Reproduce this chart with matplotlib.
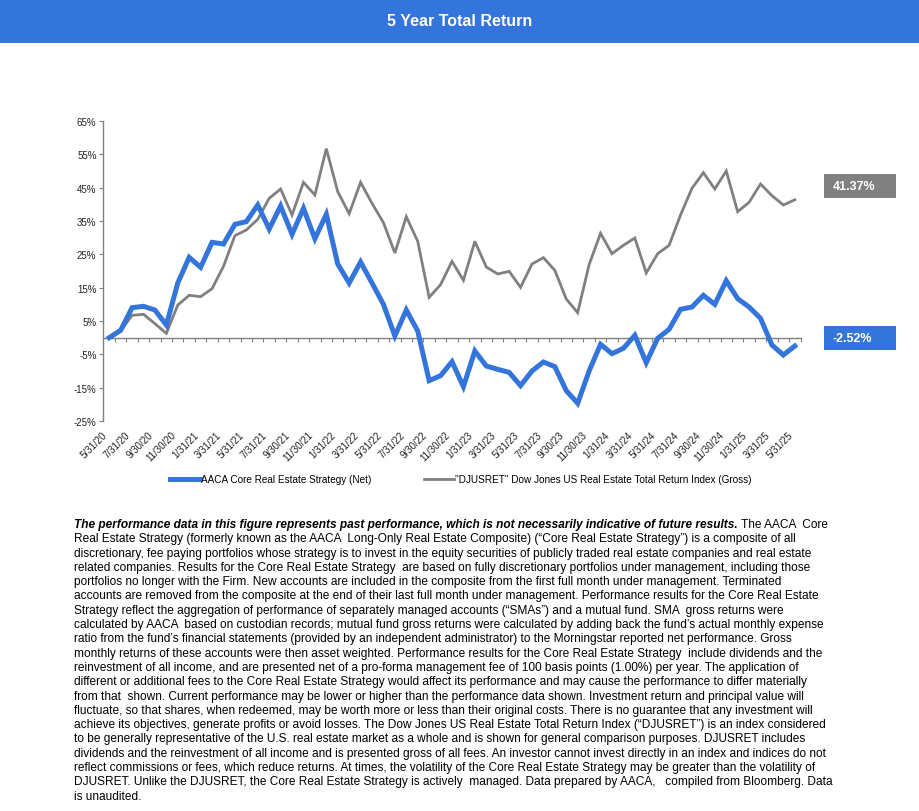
import matplotlib
matplotlib.use("Agg")
import matplotlib.pyplot as plt
import numpy as np
from matplotlib.patches import Rectangle
from matplotlib.lines import Line2D

plt.rcParams['font.family'] = ['Liberation Sans', 'DejaVu Sans']

# ---------------- data ----------------
strategy = [0.0, 2.2, 9.0, 9.4, 8.3, 3.8, 16.4, 24.1, 21.1, 28.6, 28.1, 34.0, 34.8,
            39.8, 32.6, 39.5, 31.0, 38.8, 29.7, 37.0, 22.1, 16.4, 22.7, 16.4, 10.0,
            0.5, 8.3, 2.0, -12.9, -11.4, -7.2, -14.7, -4.0, -8.5, -9.5, -10.4, -14.4,
            -10.0, -7.3, -8.7, -15.9, -19.7, -10.0, -2.0, -4.8, -3.2, 0.7, -7.5, -0.2,
            2.5, 8.5, 9.2, 12.7, 10.0, 17.1, 11.7, 9.2, 5.8, -2.2, -5.2, -2.52]
index = [0.0, 2.0, 6.7, 7.0, 4.2, 1.3, 9.8, 12.7, 12.3, 14.7, 21.4, 30.6, 32.3,
         35.5, 41.8, 44.6, 36.8, 46.6, 42.8, 56.7, 43.8, 37.2, 46.6, 40.3, 34.5,
         25.4, 36.3, 28.9, 12.1, 15.9, 22.9, 17.2, 28.9, 21.2, 19.1, 19.9, 15.1,
         22.1, 24.0, 20.2, 11.6, 7.5, 21.9, 31.3, 25.2, 27.7, 29.9, 19.4, 25.2,
         27.7, 36.8, 44.8, 49.5, 44.6, 50.0, 37.8, 40.6, 46.1, 42.6, 39.8, 41.37]
tick_labels = ["5/31/20", "7/31/20", "9/30/20", "11/30/20", "1/31/21", "3/31/21",
               "5/31/21", "7/31/21", "9/30/21", "11/30/21", "1/31/22", "3/31/22",
               "5/31/22", "7/31/22", "9/30/22", "11/30/22", "1/31/23", "3/31/23",
               "5/31/23", "7/31/23", "9/30/23", "11/30/23", "1/31/24", "3/31/24",
               "5/31/24", "7/31/24", "9/30/24", "11/30/24", "1/31/25", "3/31/25",
               "5/31/25"]
y_ticks = [-25, -15, -5, 5, 15, 25, 35, 45, 55, 65]
series_names = ["AACA Core Real Estate Strategy (Net)",
                "\"DJUSRET\" Dow Jones US Real Estate Total Return Index (Gross)"]
final_labels = ["-2.52%", "41.37%"]

BLUE = "#3375DB"
GRAY = "#808080"

W, H = 920, 812
fig = plt.figure(figsize=(W / 100, H / 100), dpi=100)

# title band
fig.patches.append(Rectangle((0, 1 - 44 / H), 1, 44 / H, transform=fig.transFigure,
                             facecolor=BLUE, edgecolor="none", zorder=0))
fig.text(0.5, 1 - 22 / H, "5 Year Total Return", color="white", fontsize=11.5,
         fontweight="bold", ha="center", va="center")

# axes
ax = fig.add_axes([103.5 / W, (H - 422) / H, (800.5 - 103.5) / W, 300 / H])
x = np.arange(len(strategy))
ax.plot(x, index, color=GRAY, lw=2.0, zorder=3, solid_joinstyle="miter")
ax.plot(x, strategy, color=BLUE, lw=3.6, zorder=4, solid_joinstyle="miter")
ax.set_xlim(-0.5, len(strategy) - 0.5)
ax.set_ylim(-25, 65)
ax.set_yticks(y_ticks)
ax.set_yticklabels([f"{v}%" for v in y_ticks])
ax.set_xticks(np.arange(0, len(strategy), 2))
ax.set_xticklabels(tick_labels, rotation=45, ha="right")
ax.tick_params(axis="x", length=0, pad=6, labelsize=7.0, colors="#222222")
ax.tick_params(axis="y", length=3, width=0.8, color=GRAY, pad=2, labelsize=7.0,
               labelcolor="#222222")
for s in ["top", "right", "bottom"]:
    ax.spines[s].set_visible(False)
ax.spines["left"].set_color(GRAY)
ax.spines["left"].set_linewidth(1.0)

# zero line with monthly tick marks
sec = ax.secondary_xaxis(25 / 90)
sec.set_xticks(np.arange(-0.5, len(strategy), 1))
sec.tick_params(axis="x", direction="out", length=3, width=0.8, color=GRAY,
                labelbottom=False, labeltop=False, bottom=True, top=False)
sec.spines["bottom"].set_color(GRAY)
sec.spines["bottom"].set_linewidth(1.0)
for s in ["top", "left", "right"]:
    if s in sec.spines:
        sec.spines[s].set_visible(False)

# legend
handles = [Line2D([], [], color=BLUE, lw=3.6), Line2D([], [], color=GRAY, lw=2.0)]
fig.legend(handles, series_names, loc="center left",
           bbox_to_anchor=(170 / W, 1 - 480 / H), ncol=2, frameon=False,
           fontsize=7.2, handlelength=3.0, handletextpad=0.1, columnspacing=5.3,
           borderpad=0, borderaxespad=0)

# end-value labels
fig.canvas.draw()
for vals, color, lab, dy in [(strategy, BLUE, final_labels[0], 8),
                             (index, GRAY, final_labels[1], 14)]:
    px = ax.transData.transform((len(vals) - 1, vals[-1]))
    cy = px[1] + dy
    fig.patches.append(Rectangle((824 / W, (cy - 12) / H), 72 / W, 24 / H,
                                 transform=fig.transFigure, facecolor=color,
                                 edgecolor="none"))
    fig.text(833 / W, cy / H, lab, color="white", fontsize=9, fontweight="bold",
             ha="left", va="center")

# disclaimer
bold_part = ("The performance data in this figure represents past performance, "
             "which is not necessarily indicative of future results.")
lines = [
    " The AACA  Core",
    "Real Estate Strategy (formerly known as the AACA  Long-Only Real Estate Composite) (\u201cCore Real Estate Strategy\u201d) is a composite of all",
    "discretionary, fee paying portfolios whose strategy is to invest in the equity securities of publicly traded real estate companies and real estate",
    "related companies. Results for the Core Real Estate Strategy  are based on fully discretionary portfolios under management, including those",
    "portfolios no longer with the Firm. New accounts are included in the composite from the first full month under management. Terminated",
    "accounts are removed from the composite at the end of their last full month under management. Performance results for the Core Real Estate",
    "Strategy reflect the aggregation of performance of separately managed accounts (\u201cSMAs\u201d) and a mutual fund. SMA  gross returns were",
    "calculated by AACA  based on custodian records; mutual fund gross returns were calculated by adding back the fund\u2019s actual monthly expense",
    "ratio from the fund\u2019s financial statements (provided by an independent administrator) to the Morningstar reported net performance. Gross",
    "monthly returns of these accounts were then asset weighted. Performance results for the Core Real Estate Strategy  include dividends and the",
    "reinvestment of all income, and are presented net of a pro-forma management fee of 100 basis points (1.00%) per year. The application of",
    "different or additional fees to the Core Real Estate Strategy would affect its performance and may cause the performance to differ materially",
    "from that  shown. Current performance may be lower or higher than the performance data shown. Investment return and principal value will",
    "fluctuate, so that shares, when redeemed, may be worth more or less than their original costs. There is no guarantee that any investment will",
    "achieve its objectives, generate profits or avoid losses. The Dow Jones US Real Estate Total Return Index (\u201cDJUSRET\u201d) is an index considered",
    "to be generally representative of the U.S. real estate market as a whole and is shown for general comparison purposes. DJUSRET includes",
    "dividends and the reinvestment of all income and is presented gross of all fees. An investor cannot invest directly in an index and indices do not",
    "reflect commissions or fees, which reduce returns. At times, the volatility of the Core Real Estate Strategy may be greater than the volatility of",
    "DJUSRET. Unlike the DJUSRET, the Core Real Estate Strategy is actively  managed. Data prepared by AACA,   compiled from Bloomberg. Data",
    "is unaudited.",
]
fs = 8.6
x0 = 74
y0 = 525
dyl = 14.3
renderer = fig.canvas.get_renderer()
t = fig.text(x0 / W, 1 - y0 / H, bold_part, fontsize=fs, fontweight="bold",
             style="italic", ha="left", va="center", color="black")
bb = t.get_window_extent(renderer)
fig.text(bb.x1 / W, 1 - y0 / H, lines[0], fontsize=fs, ha="left", va="center",
         color="black")
for k, line in enumerate(lines[1:], start=1):
    fig.text(x0 / W, 1 - (y0 + k * dyl) / H, line, fontsize=fs, ha="left",
             va="center", color="black")

fig.savefig("out.png", dpi=100)
